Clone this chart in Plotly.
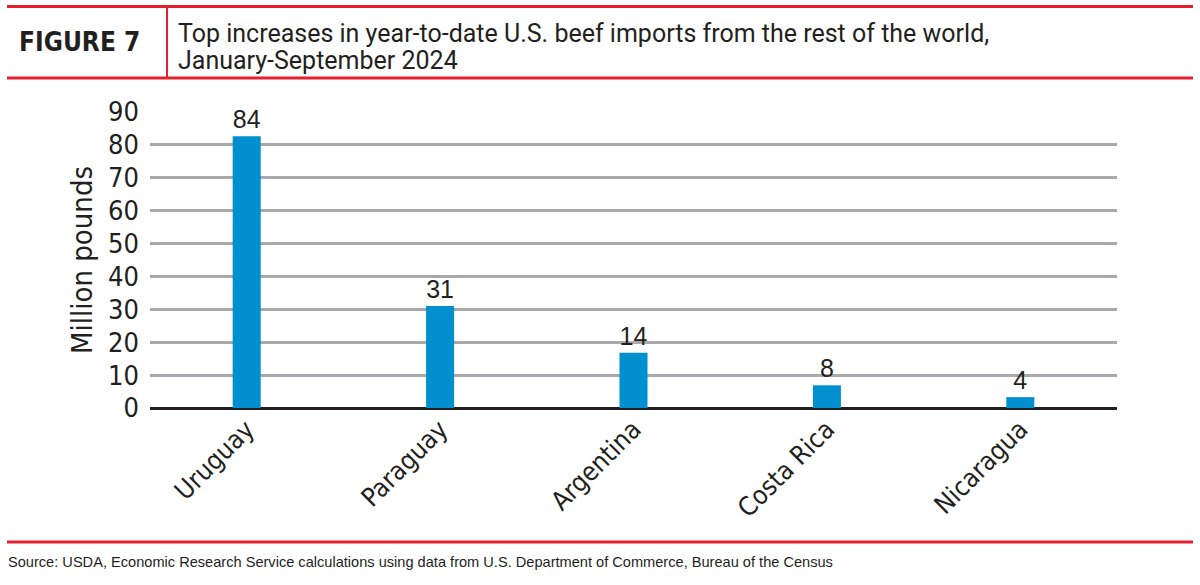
import plotly.graph_objects as go

countries = ["Uruguay", "Paraguay", "Argentina", "Costa Rica", "Nicaragua"]
bar_values = [82.6, 31, 16.8, 6.9, 3.3]
value_labels = ["84", "31", "14", "8", "4"]
y_ticks = [0, 10, 20, 30, 40, 50, 60, 70, 80, 90]

W, H = 1200, 585
L, R, T, B = 150, 83, 112, 177
PW, PH = W - L - R, H - T - B

def px(x):
    return (x - L) / PW

def py(y):
    return (H - B - y) / PH

RED = "#e41f2e"
DARK = "#231f20"
NARROW = "DejaVu Sans Condensed, sans-serif"

fig = go.Figure()
fig.add_trace(go.Bar(
    x=countries, y=bar_values, text=value_labels,
    textposition="outside", cliponaxis=False,
    textfont=dict(family="Liberation Sans, Arial, sans-serif", size=25, color=DARK),
    marker=dict(color="#0090d0", line=dict(width=0)),
    width=0.145,
))

fig.update_layout(
    width=W, height=H,
    margin=dict(l=L, r=R, t=T, b=B, autoexpand=False),
    plot_bgcolor="white", paper_bgcolor="white",
    showlegend=False,
    xaxis=dict(
        tickangle=-45, showgrid=False, showline=False, ticks="",
        tickfont=dict(family=NARROW, size=26, color=DARK),
    ),
    yaxis=dict(
        range=[0, 90], tickvals=y_ticks, showgrid=True,
        gridcolor="#a7a9ac", gridwidth=2.5,
        zeroline=True, zerolinecolor=DARK, zerolinewidth=3,
        showline=False, ticks="", ticklabelstandoff=10,
        tickfont=dict(family=NARROW, size=27, color=DARK),
        title=dict(text="Million pounds", standoff=6,
                   font=dict(family=NARROW, size=29, color=DARK)),
    ),
)

line_style = dict(color=RED, width=3)
for yy in [6.5, 78, 542]:
    fig.add_shape(type="line", xref="paper", yref="paper",
                  x0=px(7), x1=px(1193), y0=py(yy), y1=py(yy), line=line_style)
fig.add_shape(type="line", xref="paper", yref="paper",
              x0=px(167), x1=px(167), y0=py(6.5), y1=py(78), line=dict(color=RED, width=2))

fig.add_annotation(text="<b>FIGURE 7</b>", xref="paper", yref="paper",
                   x=px(17), y=py(42), xanchor="left", yanchor="middle", showarrow=False,
                   font=dict(family=NARROW, size=26, color=DARK))
title_lines = ["Top increases in year-to-date U.S. beef imports from the rest of the world,",
               "January-September 2024"]
for line, yy in zip(title_lines, [33, 60]):
    fig.add_annotation(text=line, xref="paper", yref="paper", x=px(176), y=py(yy),
                       xanchor="left", yanchor="middle", align="left", showarrow=False,
                       font=dict(family="Roboto, sans-serif", size=25, color=DARK))
fig.add_annotation(text="Source: USDA, Economic Research Service calculations using data from U.S. Department of Commerce, Bureau of the Census",
                   xref="paper", yref="paper", x=px(6), y=py(562), xanchor="left", yanchor="middle",
                   showarrow=False,
                   font=dict(family="Liberation Sans, Arial, sans-serif", size=14.6, color=DARK))

fig.write_html("out.html", config={"displayModeBar": False},
               post_script="document.body.style.margin='0';")
